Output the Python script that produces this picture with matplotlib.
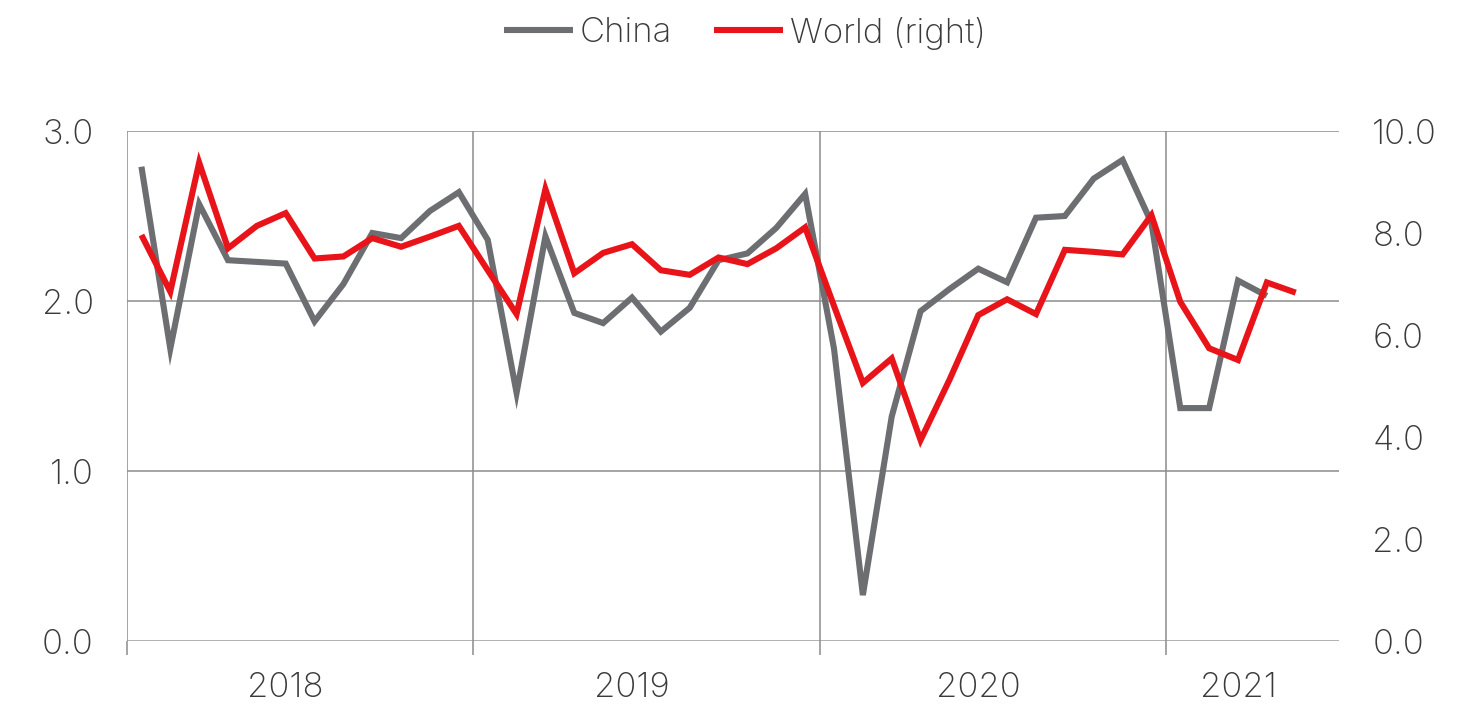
import matplotlib
matplotlib.use("Agg")
import matplotlib.pyplot as plt
import numpy as np

# ---- data (monthly, Jan 2018 onward) ----
china = [2.79, 1.72, 2.57, 2.24, 2.23, 2.22, 1.88, 2.10, 2.40, 2.37, 2.53, 2.64,
         2.36, 1.46, 2.38, 1.93, 1.87, 2.02, 1.82, 1.96, 2.24, 2.28, 2.43, 2.63,
         1.72, 0.27, 1.32, 1.94, 2.07, 2.19, 2.11, 2.49, 2.50, 2.72, 2.83, 2.46,
         1.37, 1.37, 2.12, 2.03]
world = [7.96, 6.85, 9.38, 7.70, 8.14, 8.39, 7.50, 7.54, 7.90, 7.73, 7.93, 8.14,
         7.27, 6.41, 8.86, 7.21, 7.61, 7.78, 7.27, 7.18, 7.52, 7.39, 7.70, 8.11,
         6.57, 5.06, 5.54, 3.94, 5.12, 6.39, 6.70, 6.41, 7.67, 7.63, 7.58, 8.35,
         6.65, 5.74, 5.51, 7.03, 6.83]
years = ["2018", "2019", "2020", "2021"]
year_label_pos = [5.5, 17.5, 29.5, 38.5]
year_bounds = [0, 12, 24, 36]
left_ticks = [0.0, 1.0, 2.0, 3.0]
right_ticks = [0.0, 2.0, 4.0, 6.0, 8.0, 10.0]
series_names = ["China", "World (right)"]

GRAY = "#6d6e71"
RED = "#e8141a"
GRID = "#8c8c8c"
TXT = "#3a3a3a"
FS = 25

plt.rcParams['font.family'] = ['Inter', 'DejaVu Sans']
plt.rcParams['font.weight'] = 'light'

fig = plt.figure(figsize=(14.8, 7.04), dpi=100)
ax = fig.add_axes([127/1480, 63/704, 1212/1480, 510/704])
ax2 = ax.twinx()

x_china = np.arange(len(china)) + 0.5
x_world = np.arange(len(world)) + 0.5

ax.set_xlim(0, 42)
ax.set_ylim(0, 3)
ax2.set_ylim(0, 10)

# grid
for v in left_ticks[1:]:
    ax.axhline(v, color=GRID, lw=1.1, zorder=1)
ax.axhline(0, color="#999999", lw=1.8, zorder=1)
for b in year_bounds:
    ax.axvline(b, color=GRID, lw=1.1, zorder=1)

l1, = ax.plot(x_china, china, color=GRAY, lw=4.4, solid_joinstyle='miter',
              solid_capstyle='butt', zorder=3, label=series_names[0])
l2, = ax2.plot(x_world, world, color=RED, lw=4.4, solid_joinstyle='miter',
               solid_capstyle='butt', zorder=3, label=series_names[1])

for a in (ax, ax2):
    for s in a.spines.values():
        s.set_visible(False)

ax.set_yticks(left_ticks)
ax.set_yticklabels([f"{v:.1f}" for v in left_ticks])
ax2.set_yticks(right_ticks)
ax2.set_yticklabels([f"{v:.1f}" for v in right_ticks])
ax.tick_params(axis='y', length=0, pad=24, labelsize=FS, labelcolor=TXT)
ax2.tick_params(axis='y', length=0, pad=24, labelsize=FS, labelcolor=TXT)

ax.set_xticks(year_label_pos)
ax.set_xticklabels(years)
ax.tick_params(axis='x', which='major', length=0, pad=22, labelsize=FS, labelcolor=TXT)
ax.set_xticks(year_bounds, minor=True)
ax.tick_params(axis='x', which='minor', length=10, width=1.1, color=GRID, direction='out')

fig.legend([l1, l2], series_names, loc='center', bbox_to_anchor=(745/1480, 1-33/704),
           ncol=2, frameon=False, fontsize=FS, handlelength=2.0, handletextpad=0.2,
           columnspacing=1.2, labelcolor=TXT)

fig.savefig("out.png", dpi=100)
